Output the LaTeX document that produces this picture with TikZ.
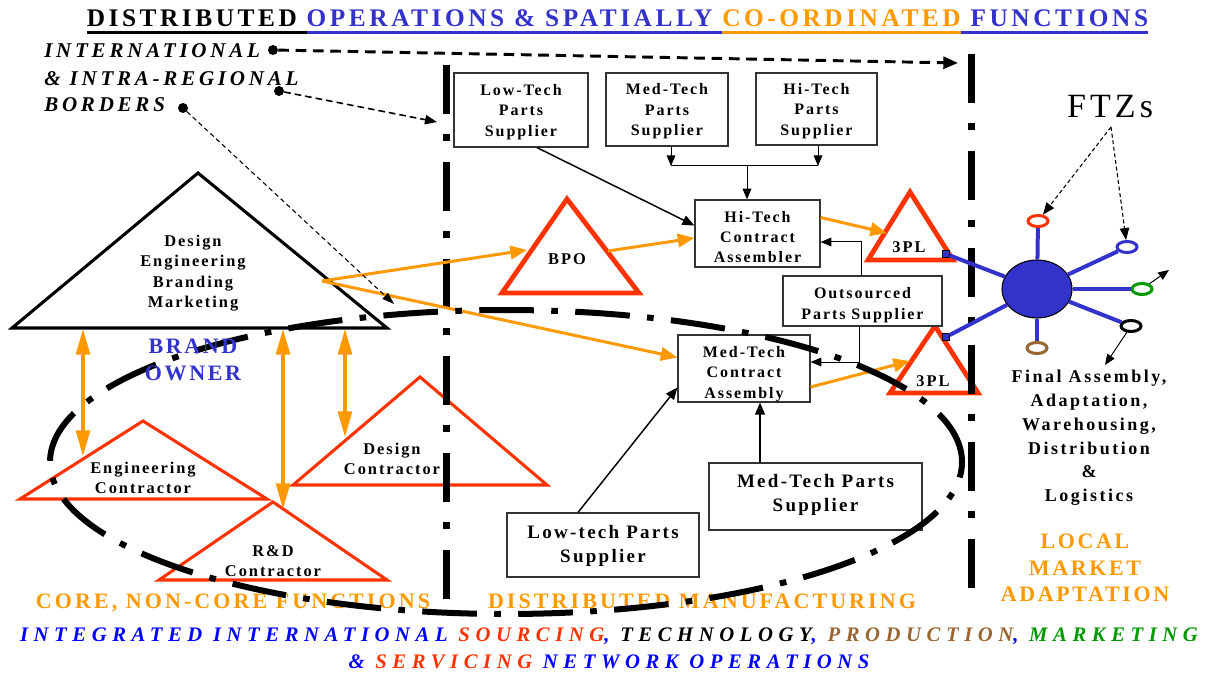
\documentclass[tikz,border=0pt]{standalone}
\usepackage{fontspec}
\setmainfont{Liberation Serif}
\newfontfamily\fA[LetterSpace=12]{Liberation Serif}
\newfontfamily\fT[LetterSpace=14]{Liberation Serif}
\newfontfamily\fL[LetterSpace=18]{Liberation Serif}
\newfontfamily\fB[LetterSpace=27]{Liberation Serif}
\newfontfamily\fO[LetterSpace=14]{Liberation Serif}
\usetikzlibrary{arrows.meta,shapes.geometric,calc}
\definecolor{tblue}{HTML}{3333CC}
\definecolor{orng}{HTML}{FF9900}
\definecolor{rred}{HTML}{FF3300}
\definecolor{bblue}{HTML}{0000FF}
\definecolor{brwn}{HTML}{996633}
\definecolor{grn}{HTML}{009900}
\newcommand\myul[1]{\setbox0=\hbox{#1}\rlap{\rule[-5pt]{\wd0}{1.9pt}}\box0}
\begin{document}
\begin{tikzpicture}[x=0.75pt,y=-0.75pt,
  box/.style={draw=black!80, line width=0.9pt, fill=white, inner sep=0pt},
  boxtxt/.style={inner sep=0pt, align=center, font=\fA\bfseries\fontsize{12}{15.3}\selectfont},
  bigtxt/.style={inner sep=0pt, align=center, font=\fA\bfseries\fontsize{14.25}{18}\selectfont},
  lbl/.style={inner sep=0pt, align=center, font=\fA\bfseries\fontsize{12.3}{15.4}\selectfont},
  con/.style={line width=1.1pt, -{Triangle[length=9pt,width=7.5pt]}},
  thincon/.style={line width=0.75pt, -{Triangle[length=8pt,width=6.5pt]}},
  oarr/.style={color=orng, line width=2.25pt, -{Triangle[length=12.5pt,width=10pt]}},
  odbl/.style={color=orng, line width=3.5pt, {Triangle[length=20pt,width=10pt]}-{Triangle[length=20pt,width=10pt]}},
  tri/.style={draw=rred, line width=2.3pt, fill=white},
  btri/.style={draw=rred, line width=3.6pt, fill=white},
  borderline/.style={line width=5.25pt, dash pattern=on 36.75pt off 15pt on 5.25pt off 15.75pt},
  ovalline/.style={line width=4.5pt, dash pattern=on 41pt off 13pt on 5pt off 13pt},
  hubline/.style={tblue, line width=3pt},
  ring/.style={ellipse, line width=2.25pt, fill=white, minimum width=15pt, minimum height=8.25pt, inner sep=0pt},
  sq/.style={rectangle, draw=black, line width=0.6pt, fill=tblue, minimum size=5pt, inner sep=0pt},
  dot/.style={circle, fill=black, inner sep=0pt, minimum size=7.5pt},
  dashA/.style={line width=2.2pt, dash pattern=on 8pt off 5pt, -{Triangle[length=11pt,width=9pt]}},
  dashB/.style={line width=1.2pt, dash pattern=on 5pt off 3pt, -{Triangle[length=9pt,width=7pt]}},
  dashC/.style={line width=0.8pt, dash pattern=on 3.5pt off 2.5pt, -{Triangle[length=9pt,width=6pt]}},
  ftzarr/.style={line width=0.8pt, dash pattern=on 3pt off 2pt, -{Triangle[length=9pt,width=7pt]}}
]
\fill[white] (0,0) rectangle (1205,673);
\useasboundingbox (0,0) rectangle (1205,673);

% ---------- triangles ----------
\draw[line width=2.3pt, fill=white] (198,173) -- (12,328) -- (387,328) -- cycle;
\node[lbl] (bo) at (193,273) {Design\\Engineering\\Branding\\Marketing};
\draw[tri] (143,421) -- (20,499) -- (267,499) -- cycle;
\node[lbl] (ec) at (143,478) {Engineering\\Contractor};
\draw[tri] (420,377) -- (293,485) -- (547,485) -- cycle;
\node[lbl] (dc) at (392,459) {Design\\Contractor};
\draw[tri] (273,502) -- (159,580) -- (387,580) -- cycle;
\node[lbl] (rd) at (273,561) {R\&D\\Contractor};
\draw[btri] (567,199) -- (502,293) -- (639,293) -- cycle;
\node[lbl] (bpo) at (567,259) {BPO};
\draw[btri] (910,192) -- (868,260) -- (953,260) -- cycle;
\node[lbl] (tplU) at (909,247) {3PL};
\draw[btri] (935,326) -- (890,393) -- (978,393) -- cycle;
\node[lbl] (tplL) at (933,381) {3PL};

% ---------- borders ----------
\coordinate (vL1) at (446,65); \coordinate (vL2) at (446,618);
\coordinate (vR1) at (971,54); \coordinate (vR2) at (971,606);
\draw[borderline] (vL1) -- (vL2);
\draw[borderline] (vR1) -- (vR2);

% ---------- boxes ----------
\node[box, minimum width=100.5pt, minimum height=55.5pt] (lts) at (521,110) {};
\node[boxtxt] (ltsT) at (521,112) {Low-Tech\\Parts\\Supplier};
\node[box, minimum width=91.5pt, minimum height=54.75pt] (mts) at (667,109.5) {};
\node[boxtxt] (mtsT) at (667,111.5) {Med-Tech\\Parts\\Supplier};
\node[box, minimum width=90.75pt, minimum height=54pt] (hts) at (816.5,109) {};
\node[boxtxt] (htsT) at (816.5,111) {Hi-Tech\\Parts\\Supplier};
\node[box, minimum width=93.75pt, minimum height=50.25pt] (htca) at (757.5,233.5) {};
\node[boxtxt] (htcaT) at (757.5,237) {Hi-Tech\\Contract\\Assembler};
\node[box, minimum width=119.25pt, minimum height=37.5pt] (ops) at (862.5,301) {};
\node[boxtxt] (opsT) at (862.5,305) {Outsourced\\Parts Supplier};
\node[box, minimum width=99pt, minimum height=50.25pt] (mtca) at (744,368.5) {};
\node[boxtxt] (mtcaT) at (744,374) {Med-Tech\\Contract\\Assembly};
\node[box, minimum width=159.75pt, minimum height=50.25pt] (mtps) at (815.5,496.5) {};
\node[bigtxt] (mtpsT) at (815.5,494.5) {Med-Tech Parts\\Supplier};
\node[box, minimum width=144pt, minimum height=48pt] (ltps) at (603,545) {};
\node[bigtxt] (ltpsT) at (603,546) {Low-tech Parts\\Supplier};

% ---------- black connectors ----------
\coordinate (j1) at (671,166); \coordinate (j2) at (818,166); \coordinate (j3) at (747,166);
\draw[thincon] (mts.south -| j1) -- (j1);
\draw[thincon] (hts.south -| j2) -- (j2);
\draw[line width=0.75pt] (j1) -- (j2);
\draw[thincon] (j3) -- (htca.north -| j3);
\draw[con] ($(lts.south)+(16,0)$) -- ($(htca.west)+(0,-8)$);
\draw[thincon] ($(ops.north)+(-1.5,0)$) |- ($(htca.east)+(0,8.5)$);
\draw[thincon] ($(ops.south)+(-3.5,0)$) |- ($(mtca.east)+(0,-6.5)$);
\draw[con] ($(ltps.north)+(-25,0)$) -- ($(mtca.west)+(0,19)$);
\draw[con] ($(mtps.north)+(-55.5,0)$) -- ($(mtca.south)+(16,0)$);

% ---------- orange connectors ----------
\coordinate (boP) at (322,281);
\coordinate (bpoL) at (527,250);
\coordinate (bpoR) at (608,251);
\coordinate (tplUin) at (887,233);
\coordinate (tplLin) at (910,361);
\draw[oarr] (boP) -- (bpoL);
\draw[oarr] (boP) -- ($(mtca.west)+(0,-11)$);
\draw[oarr] (bpoR) -- ($(htca.west)+(0,4.5)$);
\draw[oarr] ($(htca.east)+(0,-16)$) -- (tplUin);
\draw[oarr] ($(mtca.east)+(0,18.5)$) -- (tplLin);

% ---------- FTZ hub ----------
\node[ellipse, draw=black, line width=0.8pt, fill=tblue, minimum width=52.5pt, minimum height=43.5pt, inner sep=0pt] (hub) at (1037,289) {};
\node[ring, draw=rred] (rR) at (1038,221) {};
\node[ring, draw=tblue] (rB) at (1127,247) {};
\node[ring, draw=grn] (rG) at (1142,289) {};
\node[ring, draw=black] (rK) at (1131,326) {};
\node[ring, draw=brwn] (rN) at (1037,348) {};
\node[sq] (sqU) at (946,254) {};
\node[sq] (sqL) at (946,337) {};
\draw[hubline] (hub) -- (rR);
\draw[hubline] (hub) -- (rB);
\draw[hubline] (hub) -- (rG);
\draw[hubline] (hub) -- (rK);
\draw[hubline] (hub) -- (rN);
\draw[hubline] (hub) -- (sqU);
\draw[hubline] (hub) -- (sqL);
\node[font=\fA\fontsize{25.5}{28}\selectfont, inner sep=0pt] (ftz) at (1110,107) {FTZs};
\coordinate (f0) at (1111,127);
\draw[ftzarr] (f0) -- (rR);
\draw[ftzarr] (f0) -- (rB);
\coordinate (g1) at (1169,270);
\coordinate (k1) at (1105,365);
\draw[thincon] (rG) -- (g1);
\draw[thincon] (rK) -- (k1);

\node[align=center, font=\fO\bfseries\fontsize{13.5}{17.8}\selectfont, inner sep=0pt] (fa) at (1089,438) {Final Assembly,\\Adaptation,\\Warehousing,\\Distribution\\\&\\Logistics};
\node[align=center, text=orng, font=\fA\bfseries\fontsize{16.5}{19.9}\selectfont, inner sep=0pt] (lma) at (1085,568) {LOCAL\\MARKET\\ADAPTATION};

% ---------- title & border labels ----------
\node[anchor=base, font=\fT\bfseries\fontsize{19}{21}\selectfont, inner sep=0pt] (title) at (617.5,27)
  {\myul{DISTRIBUTED }{\color{tblue}\myul{OPERATIONS \& SPATIALLY }}{\color{orng}\myul{CO-ORDINATED}}{\color{tblue}\myul{ FUNCTIONS}}};
\node[anchor=base west, font=\fL\bfseries\itshape\fontsize{15.75}{18}\selectfont, inner sep=0pt] (t1) at (44,57.5) {INTERNATIONAL};
\node[anchor=base west, font=\fL\bfseries\itshape\fontsize{15.75}{18}\selectfont, inner sep=0pt] (t2) at (44,85.5) {\& INTRA-REGIONAL};
\node[anchor=base west, font=\fL\bfseries\itshape\fontsize{15.75}{18}\selectfont, inner sep=0pt] (t3) at (44,111.5) {BORDERS};
\node[dot] (d1) at (273,50) {};
\node[dot] (d2) at (279,91) {};
\node[dot] (d3) at (183,108) {};
\coordinate (e1) at (958,63);
\coordinate (e2) at (437,122);
\coordinate (e3) at (394,304);
\draw[dashA] (d1) -- (e1);
\draw[dashB] (d2) -- (e2);
\draw[dashC] (d3) -- (e3);

% ---------- bottom labels ----------
\node[anchor=base, text=orng, font=\fO\bfseries\fontsize{16.5}{20}\selectfont, inner sep=0pt] (core) at (233,608) {CORE, NON-CORE FUNCTIONS};
\node[anchor=base, text=orng, font=\fO\bfseries\fontsize{16.5}{20}\selectfont, inner sep=0pt] (dm) at (702,608) {DISTRIBUTED MANUFACTURING};
\node[anchor=base, font=\fB\bfseries\itshape\fontsize{15.5}{18}\selectfont, inner sep=0pt] (bl1) at (609,641)
  {\textcolor{bblue}{INTEGRATED INTERNATIONAL} \textcolor{rred}{SOURCING}\textcolor{bblue}{,} TECHNOLOGY\textcolor{bblue}{,} \textcolor{brwn}{PRODUCTION}\textcolor{bblue}{,} \textcolor{grn}{MARKETING}};
\node[anchor=base, font=\fB\bfseries\itshape\fontsize{15.5}{18}\selectfont, inner sep=0pt] (bl2) at (609,668)
  {\textcolor{bblue}{\&} \textcolor{rred}{SERVICING} \textcolor{bblue}{NETWORK OPERATIONS}};

% ---------- dash-dot oval ----------
\draw[ovalline] (506,462) ellipse [x radius=342pt, y radius=114pt];

% ---------- orange double arrows ----------
\coordinate (dA1) at (83,328); \coordinate (dA2) at (83,457);
\coordinate (dB1) at (283,328); \coordinate (dB2) at (283,510);
\coordinate (dC1) at (345,328); \coordinate (dC2) at (345,438);
\draw[odbl] (dA1) -- (dA2);
\draw[odbl] (dB1) -- (dB2);
\draw[odbl] (dC1) -- (dC2);

\node[align=center, text=tblue, font=\fA\bfseries\fontsize{16.5}{20.25}\selectfont, inner sep=0pt] (own) at (193,360) {BRAND\\OWNER};
\end{tikzpicture}
\end{document}
